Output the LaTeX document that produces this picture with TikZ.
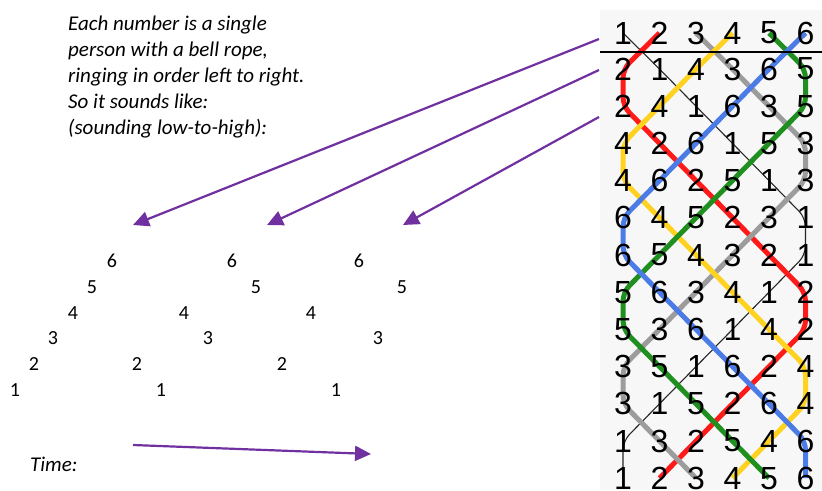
\documentclass[tikz,border=0pt]{standalone}
\usepackage{fontspec}
\setmainfont{Carlito}
\newfontfamily\gridfont{Liberation Sans}
\usetikzlibrary{arrows.meta}
\definecolor{arrowpurple}{HTML}{7030A0}
\definecolor{bellred}{HTML}{FF1A1A}
\definecolor{bellgray}{HTML}{9C9C9C}
\definecolor{bellyellow}{HTML}{FFD21F}
\definecolor{bellgreen}{HTML}{1F8F1F}
\definecolor{bellblue}{HTML}{4A7BE6}
\pgfdeclarelayer{back}
\pgfdeclarelayer{lines}
\pgfsetlayers{back,lines,main}
\begin{document}
\begin{tikzpicture}[x=1pt,y=-1pt,
  note/.style={anchor=base west,inner sep=0pt,font=\fontsize{21}{26}\selectfont\itshape},
  tri/.style={inner sep=0pt,font=\fontsize{20}{24}\selectfont},
  griddigit/.style={inner sep=0pt,font=\gridfont\fontsize{32}{36}\selectfont},
  ptr/.style={draw=arrowpurple,line width=2.2pt,-{Triangle[length=16pt,width=15pt]}},
  bellline/.style={line width=5pt,rounded corners=9pt,line join=round},
]
\useasboundingbox (0,0) rectangle (822,490);
% grid background
\begin{pgfonlayer}{back}
\fill[black!3] (600,10) rectangle (822,490);
\end{pgfonlayer}
% grid digits
\foreach \r/\row in {0/{1,2,3,4,5,6},1/{2,1,4,3,6,5},2/{2,4,1,6,3,5},3/{4,2,6,1,5,3},
  4/{4,6,2,5,1,3},5/{6,4,5,2,3,1},6/{6,5,4,3,2,1},7/{5,6,3,4,1,2},8/{5,3,6,1,4,2},
  9/{3,5,1,6,2,4},10/{3,1,5,2,6,4},11/{1,3,2,5,4,6},12/{1,2,3,4,5,6}}{
  \pgfmathsetmacro{\yy}{\r==0 ? 33 : 69+37.2*(\r-1)}
  \foreach \b [count=\c] in \row {
    \pgfmathsetmacro{\xx}{623+36.5*(\c-1)}
    \node[griddigit] (g-\r-\c) at (\xx,\yy) {\b};
  }
}
% rule under the first row
\draw[line width=2.6pt] (600,52) -- (822,52);
% bell paths
\begin{pgfonlayer}{lines}
\draw[line width=1.1pt,black!85,rounded corners=9pt] (g-0-1.center) \foreach \c [count=\r] in {2,3,4,5,6,6,5,4,3,2,1,1} { -- (g-\r-\c.center) };
\draw[bellline,bellred] (g-0-2.center) \foreach \c [count=\r] in {1,1,2,3,4,5,6,6,5,4,3,2} { -- (g-\r-\c.center) };
\draw[bellline,bellgray] (g-0-3.center) \foreach \c [count=\r] in {4,5,6,6,5,4,3,2,1,1,2,3} { -- (g-\r-\c.center) };
\draw[bellline,bellyellow] (g-0-4.center) \foreach \c [count=\r] in {3,2,1,1,2,3,4,5,6,6,5,4} { -- (g-\r-\c.center) };
\draw[bellline,bellgreen] (g-0-5.center) \foreach \c [count=\r] in {6,6,5,4,3,2,1,1,2,3,4,5} { -- (g-\r-\c.center) };
\draw[bellline,bellblue] (g-0-6.center) \foreach \c [count=\r] in {5,4,3,2,1,1,2,3,4,5,6,6} { -- (g-\r-\c.center) };
\end{pgfonlayer}
% explanatory text
\node[note] (t1) at (68,30) {Each number is a single};
\node[note] (t2) at (68,56) {person with a bell rope,};
\node[note] (t3) at (68,82) {ringing in order left to right.};
\node[note] (t4) at (68,108) {So it sounds like:};
\node[note] (t5) at (68,134) {(sounding low-to-high):};
% sounding triangles
\node[tri] (a6) at (112,261) {6};
\node[tri] (a5) at (92,287) {5};
\node[tri] (a4) at (73,313) {4};
\node[tri] (a3) at (53,338) {3};
\node[tri] (a2) at (34,364) {2};
\node[tri] (a1) at (15,390) {1};
\node[tri] (b6) at (232,261) {6};
\node[tri] (b5) at (256,287) {5};
\node[tri] (b4) at (184,313) {4};
\node[tri] (b3) at (208,338) {3};
\node[tri] (b2) at (137,364) {2};
\node[tri] (b1) at (161,390) {1};
\node[tri] (c6) at (359,261) {6};
\node[tri] (c5) at (402,287) {5};
\node[tri] (c4) at (311,313) {4};
\node[tri] (c3) at (378,338) {3};
\node[tri] (c2) at (282,364) {2};
\node[tri] (c1) at (336,390) {1};
% arrows
\coordinate (s1) at (599,39);
\coordinate (s2) at (599,70);
\coordinate (s3) at (599,117);
\coordinate (e1) at (133,225);
\coordinate (e2) at (267,225);
\coordinate (e3) at (403,225);
\draw[ptr] (s1) -- (e1);
\draw[ptr] (s2) -- (e2);
\draw[ptr] (s3) -- (e3);
\node[note] (time) at (30,471) {Time:};
\coordinate (ts) at (133,445);
\coordinate (te) at (371,454);
\draw[ptr] (ts) -- (te);
\end{tikzpicture}
\end{document}
